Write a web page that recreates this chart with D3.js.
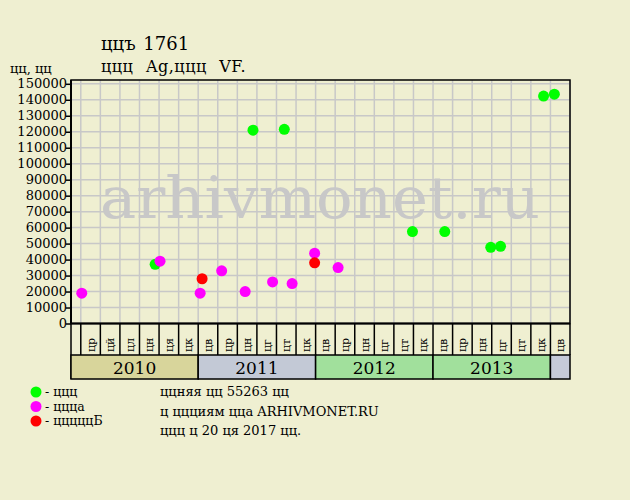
<!DOCTYPE html>
<html><head><meta charset="utf-8">
<script src="https://cdn.jsdelivr.net/npm/d3@7"></script>
<style>body{margin:0;background:#efedd0;}svg{display:block;}</style>
</head><body>
<script>
const titleText = "ццъ 1761";
const subtitleText = "ццц Ag,ццц VF.";
const yUnitText = "цц, цц";
const watermark = "arhivmonet.ru";
const yTicks = d3.range(0, 150001, 10000);
const years = ["2010", "2011", "2012", "2013", ""];
const yearStartMonths = [-1, 12, 24, 36, 48];
const yearEndMonths = [12, 24, 36, 48, 50];
const yearColors = ["#d8d59b", "#c3c9d6", "#a1e09c", "#a1e09c", "#c6cad8"];
const monthLabels = ["цр","цй","цл","цн","ця","цк",
  "цв","цр","цн","цг","цт","цк",
  "цв","цр","цн","цг","цт","цк",
  "цв","цр","цн","цг","цт","цк",
  "цв"];
// months since start (column = 2 months)
const greenMonths = [7.6, 17.6, 20.8, 33.9, 37.2, 41.9, 42.9, 47.3, 48.4];
const greenValues = [37000, 121000, 121500, 57500, 57500, 47700, 48300, 142300, 143500];
const magentaMonths = [0.1, 8.1, 12.2, 14.4, 16.8, 19.6, 21.6, 23.9, 26.3];
const magentaValues = [19000, 39000, 19000, 33000, 20000, 26000, 25000, 44000, 35000];
const redMonths = [12.4, 23.9];
const redValues = [28000, 38000];
const legendLabels = ["- ццц", "- ццца", "- цццццБ"];
const legendColors = ["#00ff00", "#ff00ff", "#ff0000"];
const infoLines = ["ццняя цц 55263 цц", "ц ццциям цца ARHIVMONET.RU", "ццц ц 20 ця 2017 цц."];

const W = 630, H = 500;
const L = 71, R = 570, T = 80, B = 323.5;
const svg = d3.select("body").append("svg").attr("width", W).attr("height", H);
svg.append("rect").attr("width", W).attr("height", H).attr("fill", "#efefd1");
const font = "DejaVu Serif";

const x = d3.scaleLinear().domain([-1, 50]).range([L, R]);
const y = d3.scaleLinear().domain([0, 150000]).range([B, 83.8]);

// grid
const gx = d3.range(0, 51, 2);
svg.append("g").selectAll("line").data(gx).join("line")
  .attr("x1", d => x(d)).attr("x2", d => x(d)).attr("y1", T).attr("y2", B)
  .attr("stroke", "#c8c8c8").attr("stroke-width", 1.5);
svg.append("g").selectAll("line").data(yTicks).join("line")
  .attr("x1", L).attr("x2", R).attr("y1", d => y(d)).attr("y2", d => y(d))
  .attr("stroke", "#c8c8c8").attr("stroke-width", 1.5);

// watermark
svg.append("text").attr("x", 100).attr("y", 218).attr("font-family", font)
  .attr("font-size", 58).attr("fill", "#c8c8c8").attr("textLength", 440)
  .attr("lengthAdjust", "spacingAndGlyphs").text(watermark);

// y axis
const yAxis = d3.axisLeft(y).tickValues(yTicks).tickSize(5).tickFormat(d3.format("d"));
const ya = svg.append("g").attr("transform", `translate(${L},0)`).call(yAxis);
ya.select(".domain").remove();
ya.selectAll("line").attr("stroke", "#000").attr("stroke-width", 1.5);
ya.selectAll("text").attr("font-family", font).attr("font-size", 13).attr("fill", "#000").attr("x", -4);

// frame
svg.append("rect").attr("x", L).attr("y", T).attr("width", R - L).attr("height", B - T)
  .attr("fill", "none").attr("stroke", "#000").attr("stroke-width", 1.5);
svg.append("line").attr("x1", L).attr("x2", R).attr("y1", B).attr("y2", B).attr("stroke", "#000").attr("stroke-width", 2);
svg.append("line").attr("x1", L).attr("x2", L).attr("y1", T).attr("y2", B).attr("stroke", "#000").attr("stroke-width", 2);

// month row
const rowTop = B, rowBot = 355, yearBot = 379;
svg.append("g").selectAll("line").data(gx).join("line")
  .attr("x1", d => x(d)).attr("x2", d => x(d)).attr("y1", rowTop).attr("y2", rowBot)
  .attr("stroke", "#000").attr("stroke-width", 1.5);
svg.append("line").attr("x1", L).attr("x2", L).attr("y1", rowTop).attr("y2", yearBot).attr("stroke", "#000").attr("stroke-width", 1.5);
svg.append("g").selectAll("text").data(monthLabels).join("text")
  .attr("transform", (d, i) => `translate(${x(2 * i + 1) + 4},352) rotate(-90)`)
  .attr("font-family", font).attr("font-size", 11).attr("fill", "#000").text(d => d);

// year row
const yr = svg.append("g");
yr.selectAll("rect").data(years).join("rect")
  .attr("x", (d, i) => x(yearStartMonths[i])).attr("y", rowBot)
  .attr("width", (d, i) => x(yearEndMonths[i]) - x(yearStartMonths[i])).attr("height", yearBot - rowBot)
  .attr("fill", (d, i) => yearColors[i]).attr("stroke", "#000").attr("stroke-width", 1.5);
yr.selectAll("text").data(years).join("text")
  .attr("x", (d, i) => (x(yearStartMonths[i]) + x(yearEndMonths[i])) / 2).attr("y", 374)
  .attr("text-anchor", "middle").attr("font-family", font).attr("font-size", 17).attr("fill", "#000").text(d => d);

// points
function dots(ms, vs, color) {
  svg.append("g").selectAll("circle").data(ms.map((m, i) => [m, vs[i]])).join("circle")
    .attr("cx", d => x(d[0])).attr("cy", d => y(d[1])).attr("r", 5.5).attr("fill", color);
}
dots(greenMonths, greenValues, legendColors[0]);
dots(magentaMonths, magentaValues, legendColors[1]);
dots(redMonths, redValues, legendColors[2]);

// titles
svg.append("text").attr("x", 101).attr("y", 50).attr("font-family", font).attr("font-size", 18).attr("word-spacing", 2).text(titleText);
svg.append("text").attr("x", 101).attr("y", 72).attr("font-family", font).attr("font-size", 16).attr("word-spacing", 7).attr("letter-spacing", 0.5).text(subtitleText);
svg.append("text").attr("x", 10).attr("y", 73).attr("font-family", font).attr("font-size", 13).text(yUnitText);

// legend
const lg = svg.append("g");
legendLabels.forEach((t, i) => {
  lg.append("circle").attr("cx", 36).attr("cy", 392 + i * 14.5).attr("r", 5.5).attr("fill", legendColors[i]);
  lg.append("text").attr("x", 45).attr("y", 396 + i * 14.5).attr("font-family", font).attr("font-size", 12.5).text(t);
});
infoLines.forEach((t, i) => {
  svg.append("text").attr("x", 160).attr("y", 396 + i * 19.5).attr("font-family", font).attr("font-size", 13).text(t);
});
</script>
</body></html>
